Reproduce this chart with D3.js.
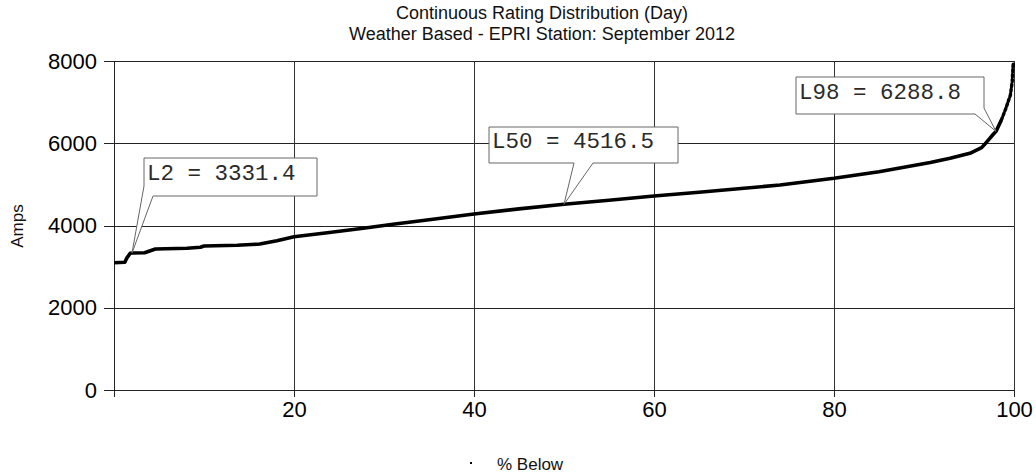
<!DOCTYPE html>
<html>
<head>
<meta charset="utf-8">
<script src="https://cdn.jsdelivr.net/npm/d3@7"></script>
<style>
  html, body { margin: 0; padding: 0; background: #fff; }
  svg { display: block; }
  .tick text { font-family: "Liberation Sans", Arial, sans-serif; fill: #000; }
</style>
</head>
<body>
<svg id="chart" width="1036" height="474"></svg>
<script>
// Rating distribution: amps at each "% below" level
const pctBelow = [0, 1.2, 1.4, 1.8, 2, 3.4, 4.6, 8.1, 9.6, 10, 13.7, 16.2, 18.1, 20, 23.7, 27.7, 31, 35, 40, 45, 50, 55, 60, 65, 70, 74, 80, 85, 90.7, 92.9, 95.1, 96.4, 97, 97.7, 98, 98.6, 99.1, 99.6, 99.8, 99.9, 100];
const amps = [3095, 3105, 3200, 3324, 3331.4, 3339, 3429, 3445, 3470, 3500, 3518, 3550, 3630, 3728, 3825, 3931, 4029, 4140, 4280, 4405, 4516.5, 4615, 4717, 4810, 4905, 4985, 5148, 5309, 5530, 5634, 5755, 5893, 6038, 6218, 6288.8, 6565, 6850, 7173, 7497, 7903, 7976];

// Percentile callouts
const calloutPct = [2, 50, 98];
const calloutAmps = [3331.4, 4516.5, 6288.8];

const yTicks = [0, 2000, 4000, 6000, 8000];
const xTicks = [0, 20, 40, 60, 80, 100];
const titleLines = ["Continuous Rating Distribution (Day)", "Weather Based - EPRI Station: September 2012"];
const yTitle = "Amps";
const seriesName = "% Below";

const svg = d3.select("#chart");
const x = d3.scaleLinear().domain([0, 100]).range([114, 1014]);
const y = d3.scaleLinear().domain([0, 8000]).range([390, 61]);

// Title
svg.append("g").selectAll("text").data(titleLines).join("text")
  .attr("x", 542).attr("y", (d, i) => 19 + i * 21)
  .attr("text-anchor", "middle")
  .attr("font-family", "Liberation Sans, Arial, sans-serif")
  .attr("font-size", 18).attr("fill", "#111")
  .text(d => d);

// Horizontal grid
svg.append("g").attr("transform", "translate(114,0)")
  .call(d3.axisLeft(y).tickValues(yTicks.filter(v => v > 0)).tickSize(-900).tickFormat(""))
  .call(g => g.select(".domain").remove())
  .call(g => g.selectAll("line").attr("stroke", "#222").attr("shape-rendering", "crispEdges"));

// Vertical grid
svg.append("g").attr("transform", "translate(0,390)")
  .call(d3.axisBottom(x).tickValues(xTicks.filter(v => v > 0)).tickSize(-329).tickFormat(""))
  .call(g => g.select(".domain").remove())
  .call(g => g.selectAll("line").attr("stroke", "#333").attr("shape-rendering", "crispEdges"));

// Y axis ticks and labels
svg.append("g").attr("transform", "translate(114,0)")
  .call(d3.axisLeft(y).tickValues(yTicks).tickSize(10).tickPadding(7).tickFormat(d3.format("d")))
  .call(g => g.select(".domain").remove())
  .call(g => g.selectAll("line").attr("stroke", "#222").attr("shape-rendering", "crispEdges"))
  .call(g => g.selectAll("text").attr("font-size", 22));

// X axis ticks and labels
svg.append("g").attr("transform", "translate(0,390)")
  .call(d3.axisBottom(x).tickValues(xTicks).tickSize(7).tickPadding(4).tickFormat(d => d === 0 ? "" : d))
  .call(g => g.select(".domain").remove())
  .call(g => g.selectAll("line").attr("stroke", "#222").attr("shape-rendering", "crispEdges"))
  .call(g => g.selectAll("text").attr("font-size", 22));

// Axis lines
svg.append("line").attr("x1", 114).attr("x2", 114).attr("y1", y(8000)).attr("y2", 397)
  .attr("stroke", "#222").attr("shape-rendering", "crispEdges");
svg.append("line").attr("x1", 104).attr("x2", x(100)).attr("y1", y(0)).attr("y2", y(0))
  .attr("stroke", "#222").attr("shape-rendering", "crispEdges");

// Y axis title
svg.append("text")
  .attr("transform", "translate(23,226) rotate(-90)")
  .attr("text-anchor", "middle")
  .attr("font-family", "Liberation Sans, Arial, sans-serif")
  .attr("font-size", 17).attr("fill", "#111")
  .text(yTitle);

// Series: solid trace, with the sparse top tail drawn as dots
const pts = pctBelow.map((p, i) => [p, amps[i]]);
const line = d3.line().x(d => x(d[0])).y(d => y(d[1]));
const split = 98.6;
svg.append("path").datum(pts.filter(d => d[0] <= split))
  .attr("d", line).attr("fill", "none").attr("stroke", "#000")
  .attr("stroke-width", 3.6).attr("stroke-linejoin", "round");
svg.append("path").datum(pts.filter(d => d[0] >= split))
  .attr("d", line).attr("fill", "none").attr("stroke", "#000")
  .attr("stroke-width", 3.4).attr("stroke-linecap", "round")
  .attr("stroke-dasharray", "2.5,2.5");

// Callouts
const boxes = [
  { x0: 144, y0: 158, x1: 317, y1: 196, base: 180, tail: "leftBottom" },
  { x0: 489, y0: 127, x1: 678, y1: 163, base: 148, tail: "bottom" },
  { x0: 796, y0: 77, x1: 984, y1: 114, base: 99, tail: "rightBottom" }
];
calloutPct.forEach((p, i) => {
  const b = boxes[i];
  const tx = x(p), ty = y(calloutAmps[i]);
  let poly;
  if (b.tail === "leftBottom") {
    poly = [[b.x0, b.y0], [b.x1, b.y0], [b.x1, b.y1], [b.x0 + 9, b.y1], [tx, ty], [b.x0, b.y1 - 10]];
  } else if (b.tail === "bottom") {
    poly = [[b.x0, b.y0], [b.x1, b.y0], [b.x1, b.y1], [b.x0 + 104, b.y1], [tx, ty], [b.x0 + 85, b.y1], [b.x0, b.y1]];
  } else {
    poly = [[b.x0, b.y0], [b.x1, b.y0], [b.x1, b.y1 - 6], [tx, ty], [b.x1 - 9, b.y1], [b.x0, b.y1]];
  }
  svg.append("path")
    .attr("d", "M" + poly.map(q => q.join(",")).join("L") + "Z")
    .attr("fill", "#fff").attr("stroke", "#666").attr("stroke-width", 1);
  svg.append("text")
    .attr("x", b.x0 + 3).attr("y", b.base)
    .attr("font-family", "Liberation Mono, Courier New, monospace")
    .attr("font-size", 22.5).attr("fill", "#2a2a2a")
    .attr("xml:space", "preserve")
    .text(`L${p} = ${calloutAmps[i].toFixed(1)}`);
});

// Legend
svg.append("rect").attr("x", 470).attr("y", 462).attr("width", 2).attr("height", 2).attr("fill", "#000");
svg.append("text")
  .attr("x", 497).attr("y", 470)
  .attr("font-family", "Liberation Sans, Arial, sans-serif")
  .attr("font-size", 17).attr("fill", "#111")
  .text(seriesName);
</script>
</body>
</html>
